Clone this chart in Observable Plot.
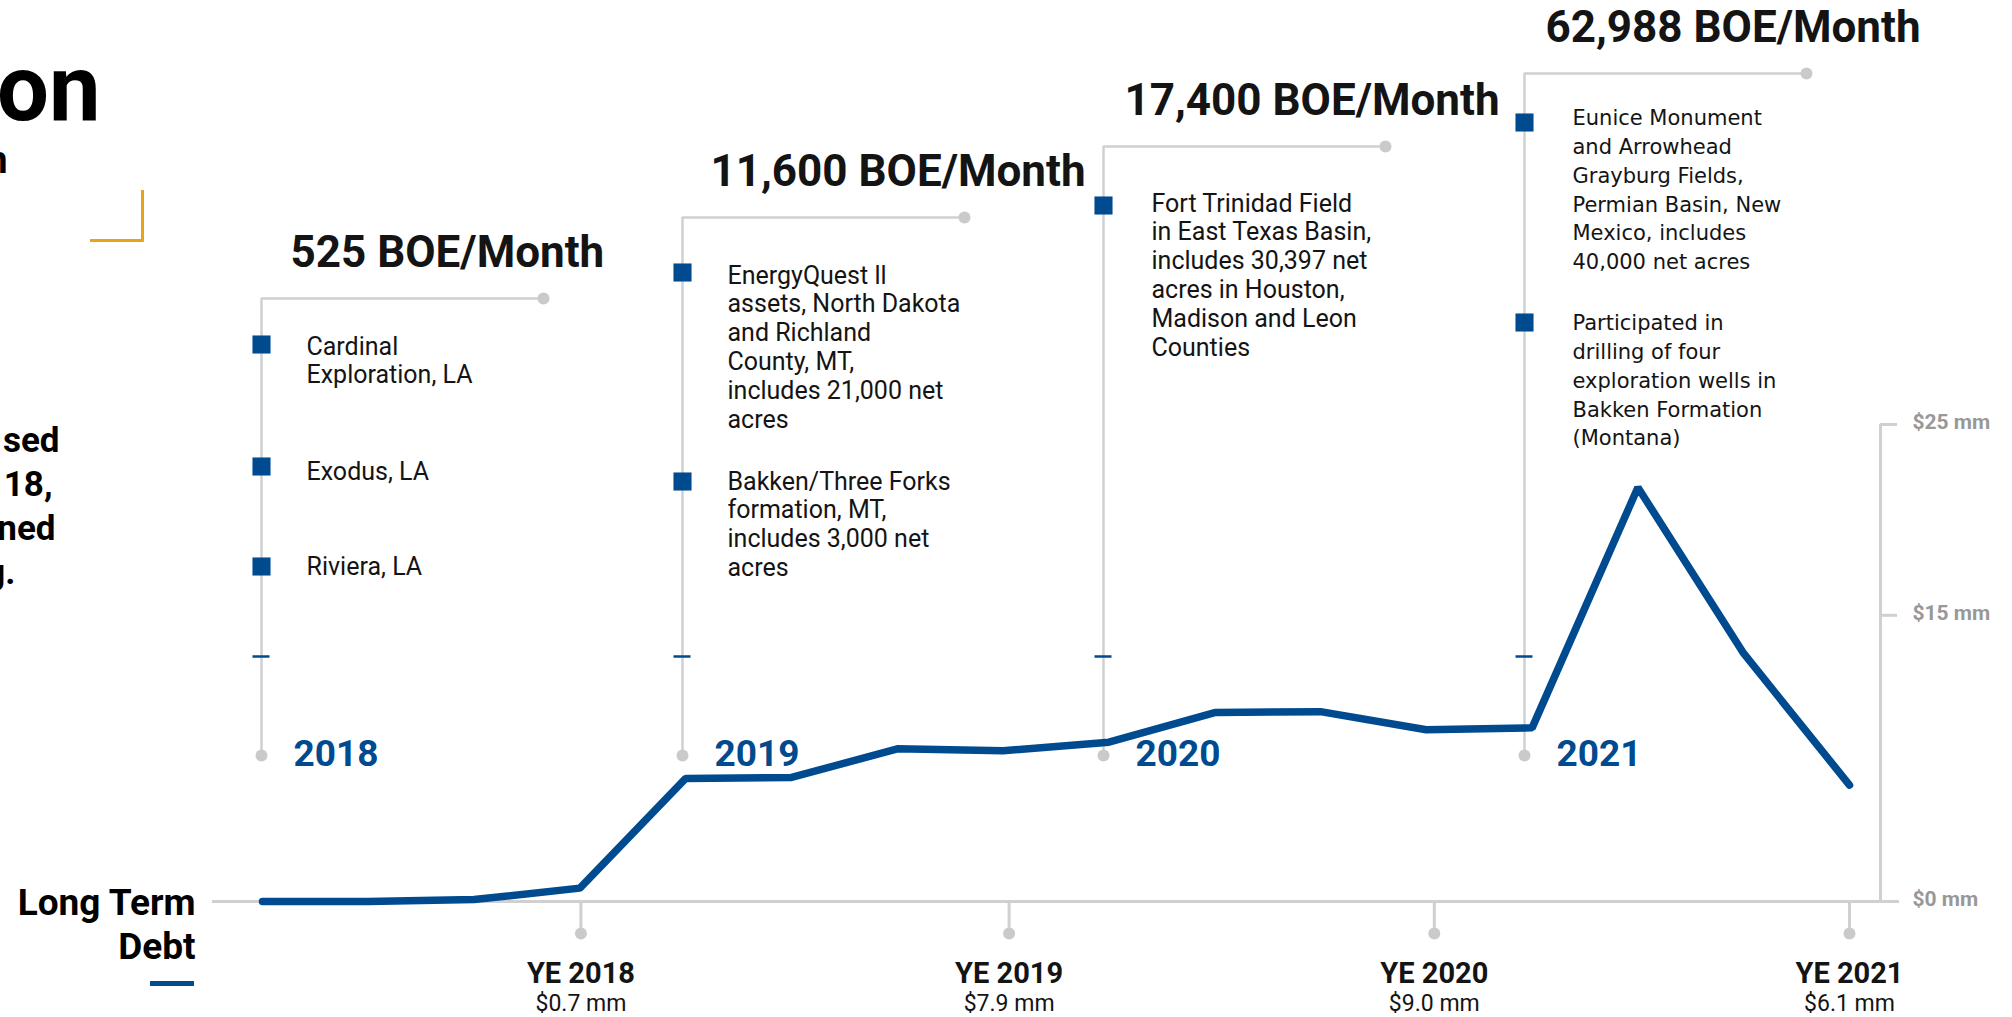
<!DOCTYPE html>
<html><head><meta charset="utf-8">
<script src="https://cdn.jsdelivr.net/npm/d3@7"></script>
<script src="https://cdn.jsdelivr.net/npm/@observablehq/plot@0.6"></script>
<style>html,body{margin:0;padding:0;background:#fff;overflow:hidden}</style>
</head><body><div id="chart"></div>
<script>
// ---------- DATA ----------
const quarters = ["Q1 2018","Q2 2018","Q3 2018","Q4 2018","Q1 2019","Q2 2019","Q3 2019","Q4 2019",
                  "Q1 2020","Q2 2020","Q3 2020","Q4 2020","Q1 2021","Q2 2021","Q3 2021","Q4 2021"];
const debt = [0.0, 0.0, 0.1, 0.7, 6.45, 6.5, 8.0, 7.9, 8.35, 9.9, 9.95, 9.0, 9.1, 21.7, 13.0, 6.1];

const yearLabels = ["2018", "2019", "2020", "2021"];
const boeLabels = ["525 BOE/Month", "11,600 BOE/Month", "17,400 BOE/Month", "62,988 BOE/Month"];
const acquisitions = [
  ["Cardinal\nExploration, LA", "Exodus, LA", "Riviera, LA"],
  ["EnergyQuest ll\nassets, North Dakota\nand Richland\nCounty, MT,\nincludes 21,000 net\nacres",
   "Bakken/Three Forks\nformation, MT,\nincludes 3,000 net\nacres"],
  ["Fort Trinidad Field\nin East Texas Basin,\nincludes 30,397 net\nacres in Houston,\nMadison and Leon\nCounties"],
  ["Eunice Monument\nand Arrowhead\nGrayburg Fields,\nPermian Basin, New\nMexico, includes\n40,000 net acres",
   "Participated in\ndrilling of four\nexploration wells in\nBakken Formation\n(Montana)"]
];
const yeIndex = [3, 7, 11, 15];
const yeLabels = ["YE 2018", "YE 2019", "YE 2020", "YE 2021"];
const yeDebtLabels = ["$0.7 mm", "$7.9 mm", "$9.0 mm", "$6.1 mm"];
const yTicks = [0, 15, 25];
const yTickLabels = ["$0 mm", "$15 mm", "$25 mm"];
const seriesLabel = ["Long Term", "Debt"];
const sideFragments = ["on", "n", "sed", "18,", "ned", "g."];

// ---------- LAYOUT (pixels) ----------
const W = 2012, H = 1017;
const blue = "#004a8f", gray = "#cfd0d2", dotGray = "#c9cacc", labelGray = "#989898", ink = "#141414";
const xDomain = [0, 15], xRange = [262, 1849];
const yDomain = [0, 25], yRange = [901, 424];
const X = d3.scaleLinear(xDomain, xRange);
const Y = d3.scaleLinear(yDomain, yRange);
const px = p => X.invert(p), py = p => Y.invert(p);

const L = {
  lineX: [261, 682, 1103, 1524],
  topY: [298, 217, 146, 73],
  titleX: [290, 710, 1124, 1545],
  bulletY: [[344, 466, 566], [272, 481], [205], [122, 322]],
  textY: [[346, 471, 566], [275, 481], [203], [118, 323]],
  textDX: [45, 45, 48, 48],
  yeDX: [1, 6, 8, 0],
  bottomY: 755, tickY: 656, hLen: 282
};

// ---------- BUILD MARK DATA ----------
const lineData = debt.map((v, i) => ({q: quarters[i], i, v}));
const groups = yearLabels.map((yr, g) => ({
  g, yr, boe: boeLabels[g],
  x: L.lineX[g], top: L.topY[g]
}));
const bulletPts = [], bulletLines = [];
acquisitions.forEach((items, g) => {
  items.forEach((txt, k) => {
    bulletPts.push({g, x: L.lineX[g], y: L.bulletY[g][k]});
    txt.split("\n").forEach((line, j) => {
      bulletLines.push({g, line, x: L.lineX[g] + L.textDX[g], y: L.textY[g][k] + j * 28.8});
    });
  });
});
const yeData = yeIndex.map((i, k) => ({i, label: yeLabels[k], sub: yeDebtLabels[k], dx: L.yeDX[k]}));
const yTickData = yTicks.map((v, k) => ({v, label: yTickLabels[k]}));

const fragLayout = [
  {x: 100, y: 90, size: 92}, {x: 7, y: 160, size: 38},
  {x: 59, y: 440, size: 35}, {x: 52, y: 484, size: 35},
  {x: 55, y: 528, size: 35}, {x: 15, y: 572, size: 35}
];
const fragData = sideFragments.map((t, k) => ({t, ...fragLayout[k]}));

const yeMarks = yeData.flatMap(d => [
  Plot.ruleX([d], {x: "i", dx: d.dx, y1: 0, y2: py(933), stroke: gray, strokeWidth: 3}),
  Plot.dot([d], {x: "i", dx: d.dx, y: py(933), r: 6, fill: dotGray}),
  Plot.text([d], {x: "i", dx: d.dx, y: py(973), text: "label", fontSize: 29, fontWeight: "bold", fill: ink, fontFamily: "Roboto"}),
  Plot.text([d], {x: "i", dx: d.dx, y: py(1003), text: "sub", fontSize: 23, fill: ink, fontFamily: "Roboto"})
]);

const chart = Plot.plot({
  width: W, height: H,
  marginTop: 0, marginRight: 0, marginBottom: 0, marginLeft: 0,
  x: {domain: xDomain, range: xRange, axis: null},
  y: {domain: yDomain, range: yRange, axis: null},
  style: {fontFamily: "Roboto, sans-serif", background: "#fff", color: ink},
  marks: [
    // left side fragments (cut-off slide text)
    Plot.text(fragData, {x: d => px(d.x), y: d => py(d.y), text: "t", textAnchor: "end",
      fontSize: d => d.size, fontWeight: "bold", fill: "#000", fontFamily: "Roboto"}),
    // gold bracket
    Plot.ruleX([px(142)], {y1: py(190), y2: py(241.5), stroke: "#e8a31c", strokeWidth: 3}),
    Plot.ruleY([py(240)], {x1: px(90), x2: px(143.5), stroke: "#e8a31c", strokeWidth: 3}),

    // timeline verticals & headers
    Plot.ruleX(groups, {x: d => px(d.x), y1: d => py(d.top), y2: py(L.bottomY), stroke: gray, strokeWidth: 2.5}),
    Plot.ruleY(groups, {y: d => py(d.top), x1: d => px(d.x), x2: d => px(d.x + L.hLen), stroke: gray, strokeWidth: 2.5}),
    Plot.dot(groups, {x: d => px(d.x + L.hLen), y: d => py(d.top), r: 6, fill: dotGray}),
    Plot.dot(groups, {x: d => px(d.x), y: py(L.bottomY), r: 6, fill: dotGray}),
    Plot.ruleY(groups, {y: py(L.tickY), x1: d => px(d.x - 8.5), x2: d => px(d.x + 8.5), stroke: blue, strokeWidth: 2.5}),
    Plot.text(groups, {x: d => px(L.titleX[d.g]), y: d => py(d.top - 46), text: "boe", textAnchor: "start",
      fontSize: 44, fontWeight: "bold", fill: ink, fontFamily: "Roboto"}),
    Plot.text(groups, {x: d => px(d.x + 32), y: py(754), text: "yr", textAnchor: "start",
      fontSize: 37, fontWeight: "bold", fill: blue, fontFamily: "Roboto"}),

    // bullets & acquisition text
    Plot.dot(bulletPts, {x: d => px(d.x), y: d => py(d.y), symbol: "square", r: 10.2, fill: blue}),
    Plot.text(bulletLines.filter(d => d.g < 3), {x: d => px(d.x), y: d => py(d.y), text: "line", textAnchor: "start",
      fontSize: 25, fill: ink, fontFamily: "Roboto"}),
    Plot.text(bulletLines.filter(d => d.g === 3), {x: d => px(d.x), y: d => py(d.y), text: "line", textAnchor: "start",
      fontSize: 21, fill: ink, fontFamily: "DejaVu Sans"}),

    // axes
    Plot.ruleY([0], {x1: px(212), x2: px(1899), stroke: gray, strokeWidth: 3}),
    Plot.ruleX([px(1880)], {y1: 0, y2: 25, stroke: gray, strokeWidth: 3}),
    Plot.ruleY(yTicks.filter(v => v > 0), {x1: px(1880), x2: px(1897), stroke: gray, strokeWidth: 3}),
    Plot.text(yTickData, {x: px(1912), y: d => d.v, dy: -2, text: "label", textAnchor: "start",
      fontSize: 21, fontWeight: "bold", fill: labelGray, fontFamily: "Roboto"}),
    ...yeMarks,

    // series label + legend swatch
    Plot.text(seriesLabel, {x: px(195), y: (d, k) => py(903 + k * 44), text: d => d, textAnchor: "end",
      fontSize: 37, fontWeight: "bold", fill: "#000", fontFamily: "Roboto"}),
    Plot.ruleY([py(983)], {x1: px(150), x2: px(194), stroke: blue, strokeWidth: 5}),

    // the debt line
    Plot.line(lineData, {x: "i", y: "v", stroke: blue, strokeWidth: 7.5, strokeLinecap: "round", strokeLinejoin: "miter"})
  ]
});
document.getElementById("chart").append(chart);
</script></body></html>
